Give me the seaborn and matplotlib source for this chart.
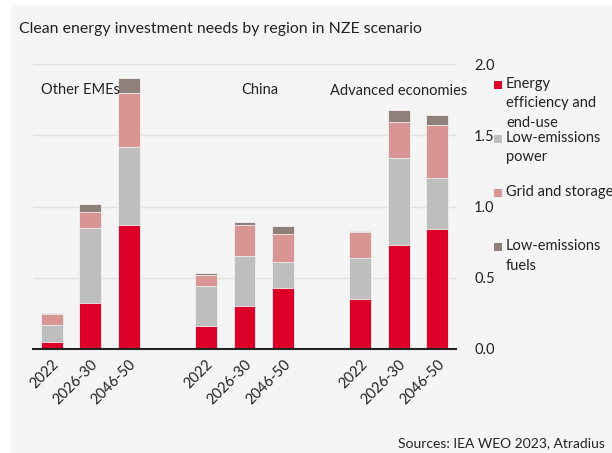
"""
plot.py - Clean energy investment needs by region (NZE scenario)
Stacked bars drawn with seaborn, legend built by hand on the right.
"""
import numpy as np
import pandas as pd
import matplotlib
matplotlib.use("Agg")
import matplotlib.pyplot as plt
from matplotlib.patches import Rectangle
import seaborn as sns

# --- data ---
regions = ["Other EMEs", "China", "Advanced economies"]
periods = ["2022", "2026-30", "2046-50"]
segments = ["Energy\nefficiency and\nend-use", "Low-emissions\npower",
            "Grid and storage", "Low-emissions\nfuels"]

# one value per bar, order: region x period
efficiency = [0.05, 0.32, 0.87, 0.16, 0.30, 0.43, 0.35, 0.73, 0.84]
power      = [0.12, 0.53, 0.55, 0.28, 0.35, 0.18, 0.29, 0.61, 0.36]
grid       = [0.075, 0.11, 0.38, 0.08, 0.22, 0.20, 0.18, 0.25, 0.37]
fuels      = [0.005, 0.06, 0.10, 0.01, 0.02, 0.05, 0.01, 0.09, 0.07]

colors = ["#DC0028", "#BEBEBE", "#D99594", "#8F807A"]
panel_bg = "#F5F5F5"

# --- tidy table ---
rows = []
for i in range(len(efficiency)):
    g, p = divmod(i, len(periods))
    rows.append({"region": regions[g], "period": periods[p],
                 "pos": g * (len(periods) + 1) + p,
                 "s0": efficiency[i], "s1": power[i],
                 "s2": grid[i], "s3": fuels[i]})
df = pd.DataFrame(rows)
vals = df[["s0", "s1", "s2", "s3"]].to_numpy()
cum = np.cumsum(vals, axis=1)
for k in range(4):
    df[f"c{k}"] = cum[:, k]

sns.set_theme(style="white")
plt.rcParams["font.family"] = ["Lato", "DejaVu Sans"]

fig = plt.figure(figsize=(6.12, 4.53), dpi=100)
fig.patch.set_facecolor("white")
fig.patches.append(Rectangle((11 / 612, 0), 1, 448 / 453, transform=fig.transFigure,
                             facecolor=panel_bg, edgecolor="none", zorder=-5))

ax = fig.add_axes([33 / 612, 1 - 349 / 453, 423 / 612, 285 / 453])
ax.set_facecolor(panel_bg)
ax.patch.set_alpha(0)
ax.set_zorder(2)

# stacked bars: draw cumulative totals from top segment down
for k in range(3, -1, -1):
    sns.barplot(data=df, x="pos", y=f"c{k}", native_scale=True, width=0.57,
                color=colors[k], saturation=1, edgecolor="#F0F0F0",
                linewidth=0.6, ax=ax, zorder=3)

ax.set_xlim(-0.48, 10.48)
ax.set_ylim(0, 2.0)
ax.set_xticks(df["pos"])
ax.set_xticklabels(df["period"], rotation=45, ha="right",
                   rotation_mode="anchor", fontsize=10.5, color="#222222")
ax.tick_params(axis="x", length=0, pad=6)
ax.yaxis.tick_right()
ax.set_yticks([0, 0.5, 1.0, 1.5, 2.0])
ax.set_yticklabels(["0.0", "0.5", "1.0", "1.5", "2.0"], fontsize=10.5,
                   color="#222222")
ax.tick_params(axis="y", length=0, pad=13)
ax.grid(axis="y", color="#E0E0E0", linewidth=1, zorder=0)
ax.set_axisbelow(True)
ax.set_xlabel("")
ax.set_ylabel("")
for side in ["top", "right", "left"]:
    ax.spines[side].set_visible(False)
ax.spines["bottom"].set_color("#222222")
ax.spines["bottom"].set_linewidth(1.5)
ax.spines["bottom"].set_zorder(5)

# region labels
ax.text(-0.27, 1.82, regions[0], fontsize=10.5, color="#222222", va="center")
ax.text(5.4, 1.82, regions[1], fontsize=10.5, color="#222222", va="center",
        ha="center")
ax.text(9.0, 1.81, regions[2], fontsize=10.5, color="#222222", va="center",
        ha="center")

# title and source
fig.text(19 / 612, 1 - 29 / 453, "Clean energy investment needs by region in NZE scenario",
         fontsize=11.4, color="#222222", va="center")
fig.text(605 / 612, 1 - 443 / 453, "Sources: IEA WEO 2023, Atradius",
         fontsize=10, color="#222222", va="center", ha="right")

# legend on the right
leg_y = [85, 139, 193, 247]
for k, lab in enumerate(segments):
    y = 1 - leg_y[k] / 453
    fig.patches.append(Rectangle((494 / 612, y - 4 / 453), 8 / 612, 8 / 453,
                                 transform=fig.transFigure, facecolor=colors[k],
                                 edgecolor="none", zorder=3))
    fig.text(506 / 612, y + 8 / 453, lab, fontsize=10.5, color="#222222",
             va="top", linespacing=1.5)

fig.savefig("out.png", dpi=100, facecolor="white")
